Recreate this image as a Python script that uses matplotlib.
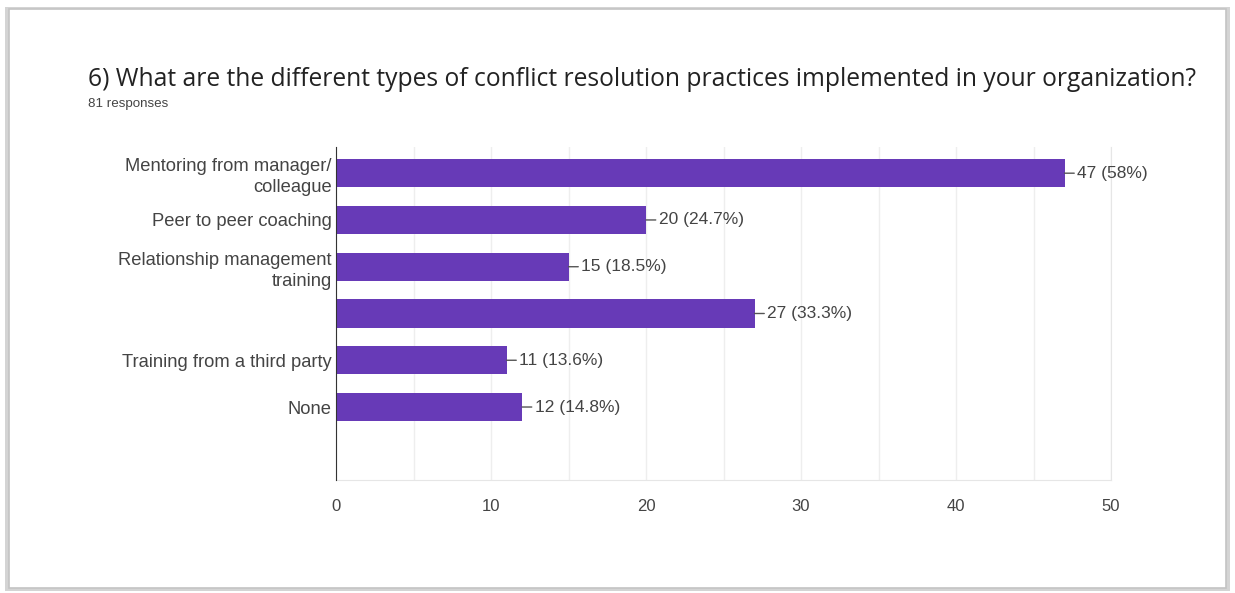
import matplotlib.pyplot as plt
from matplotlib.patches import Rectangle

categories = ["Mentoring from manager/\ncolleague", "Peer to peer coaching",
              "Relationship management\ntraining", "", "Training from a third party", "None"]
counts = [47, 20, 15, 27, 11, 12]
bar_labels = ["47 (58%)", "20 (24.7%)", "15 (18.5%)", "27 (33.3%)", "11 (13.6%)", "12 (14.8%)"]
xticks = [0, 10, 20, 30, 40, 50]

purple = '#673ab7'
text_grey = '#444444'

fig = plt.figure(figsize=(12.35, 5.93), dpi=100)

# card frame with a soft shadow
fig.patches.append(Rectangle((0.004, 0.004), 0.992, 0.985, transform=fig.transFigure,
                             facecolor='#d4d4d4', edgecolor='none', zorder=-2))
fig.patches.append(Rectangle((0.0075, 0.009), 0.985, 0.976, transform=fig.transFigure,
                             facecolor='white', edgecolor='#c4c4c4', lw=1.2, zorder=-1))

fig.text(0.0715, 0.866, "6) What are the different types of conflict resolution practices implemented in your organization?",
         fontsize=17.7, family='Open Sans', color='#222222', va='center')
fig.text(0.0715, 0.824, "81 responses", fontsize=9.6, family='Liberation Sans', color='#444444', va='center')

ax = fig.add_axes([0.2721, 0.1906, 0.6275, 0.5615])
ax.set_zorder(2)
y = list(range(len(categories)))
ax.barh(y, counts, height=0.6, color=purple, zorder=3)

for yi, v, lab in zip(y, counts, bar_labels):
    ax.annotate(lab, xy=(v, yi), xytext=(9, 0), textcoords='offset points', va='center',
                fontsize=12.5, family='Liberation Sans', color=text_grey,
                arrowprops=dict(arrowstyle='-', color='#555555', lw=1, shrinkA=0, shrinkB=0))

ax.set_xlim(0, 50)
ax.set_ylim(6.56, -0.56)
ax.set_yticks(y)
ax.set_yticklabels(categories, fontsize=13.2, family='Liberation Sans', color=text_grey,
                   linespacing=1.3)
ax.set_xticks(xticks)
ax.set_xticklabels([str(t) for t in xticks], fontsize=12, family='Liberation Sans', color=text_grey)
ax.set_xticks(range(0, 51, 5), minor=True)
ax.tick_params(length=0, which='both')
ax.tick_params(axis='x', pad=14)
ax.tick_params(axis='y', pad=3)
ax.grid(axis='x', which='both', color='#eeeeee', lw=1, zorder=0)

ax.spines['top'].set_visible(False)
ax.spines['right'].set_color('#e6e6e6')
ax.spines['bottom'].set_color('#e6e6e6')
ax.spines['left'].set_color('#333333')
ax.spines['left'].set_zorder(4)

plt.savefig('out.png', dpi=100)
